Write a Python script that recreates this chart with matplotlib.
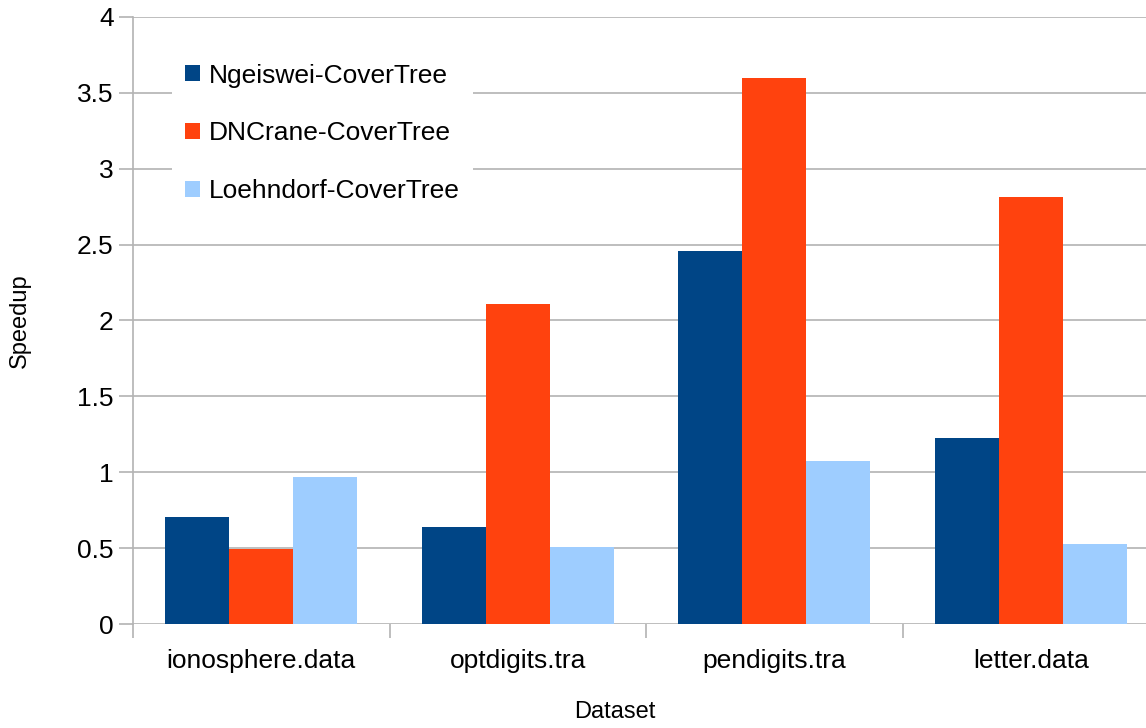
import numpy as np
import matplotlib.pyplot as plt

plt.rcParams['font.family'] = ['Liberation Sans', 'DejaVu Sans']

datasets = ['ionosphere.data', 'optdigits.tra', 'pendigits.tra', 'letter.data']
series = ['Ngeiswei-CoverTree', 'DNCrane-CoverTree', 'Loehndorf-CoverTree']
ngeiswei = [0.703, 0.637, 2.456, 1.224]
dncrane = [0.497, 2.11, 3.60, 2.814]
loehndorf = [0.968, 0.507, 1.072, 0.526]
colors = ['#004586', '#ff420e', '#9ecdff']

GRID = '#b3b3b3'

fig = plt.figure(figsize=(11.46, 7.28), dpi=100)
# the plot area runs a little past the right edge of the picture
ax = fig.add_axes([133 / 1146, 104 / 728, 1026 / 1146, (624 - 17) / 728])

x = np.arange(len(datasets))
w = 0.25
for i, (vals, name) in enumerate(zip([ngeiswei, dncrane, loehndorf], series)):
    ax.bar(x + (i - 1) * w, vals, w, color=colors[i], label=name, zorder=3)

ax.set_xlim(-0.5, 3.5)
ax.set_ylim(0, 4)
ax.set_yticks(np.arange(0, 4.01, 0.5))
ax.set_yticklabels(['0', '0.5', '1', '1.5', '2', '2.5', '3', '3.5', '4'], fontsize=19)
ax.grid(axis='y', color=GRID, linewidth=1.2, zorder=0)

# category labels centred, tick marks at the borders between categories
ax.set_xticks(x)
ax.set_xticklabels(datasets, fontsize=19)
ax.tick_params(axis='x', length=0, pad=18)
ax.set_xticks(np.arange(-0.5, 3.0, 1.0), minor=True)
ax.tick_params(axis='x', which='minor', length=10, color=GRID, width=1.2)
ax.tick_params(axis='y', length=10, color=GRID, width=1.2, pad=4)

for s in ['top', 'right', 'bottom']:
    ax.spines[s].set_visible(False)
ax.spines['left'].set_color(GRID)
ax.spines['left'].set_linewidth(1.2)

ax.set_ylabel('Speedup', fontsize=17)
ax.yaxis.set_label_coords(-102 / 1026, 0.5)
fig.text(615 / 1146, 1 - 712 / 728, 'Dataset', fontsize=17, ha='center', va='center')

leg = ax.legend(loc='upper left', bbox_to_anchor=(0.038, 0.945), frameon=True,
                fontsize=19, handlelength=0.55, handleheight=0.55, labelspacing=1.28,
                borderpad=0.5, handletextpad=0.35, borderaxespad=0, fancybox=False)
leg.get_frame().set_edgecolor('none')
leg.get_frame().set_facecolor('white')
leg.get_frame().set_alpha(1)
leg.set_zorder(5)

fig.savefig('out.png', dpi=100)
